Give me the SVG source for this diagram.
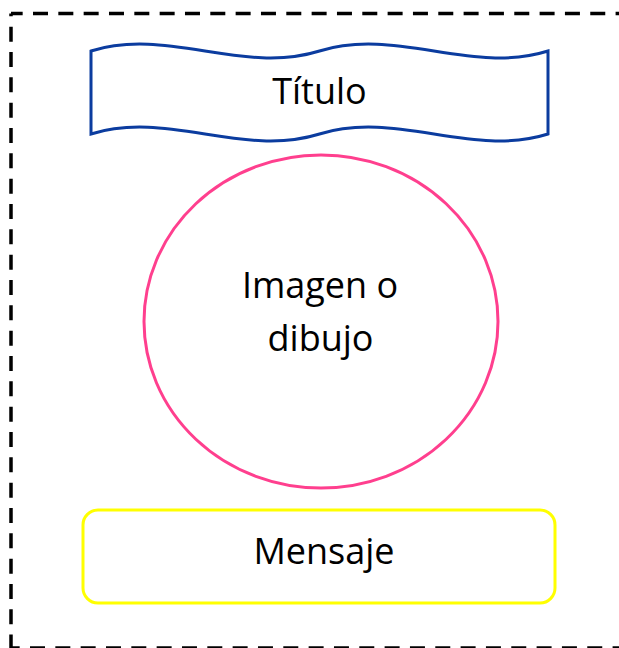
<svg xmlns="http://www.w3.org/2000/svg" width="619" height="648" viewBox="0 0 619 648">
  <style>
    .lbl { font-family: "Open Sans", "Noto Sans", "Liberation Sans", sans-serif; font-size: 36px; fill: #000000; text-anchor: middle; }
    .border { fill: none; stroke: #000000; stroke-width: 3.5; stroke-dasharray: 15 10.33; }
  </style>
  <rect x="0" y="0" width="619" height="648" fill="#ffffff"/>
  <g id="frame">
    <path class="border" d="M11,13.5 L640,13.5" stroke-dashoffset="3.33"/>
    <path class="border" d="M11,13.5 L11,648" stroke-dashoffset="12.13"/>
    <path class="border" d="M11,648 L640,648" stroke-dashoffset="6.33"/>
  </g>
  <g id="titulo">
    <path d="M91,51 C167,27 243,75 319.5,51 C396,27 472,75 548,51 L548,134 C472,158 396,110 319.5,134 C243,158 167,110 91,134 Z" fill="#ffffff" stroke="#0B3C9F" stroke-width="3" stroke-linejoin="miter"/>
    <text class="lbl" x="319.5" y="103.5">Título</text>
  </g>
  <g id="imagen">
    <ellipse cx="321" cy="321.5" rx="177" ry="166.5" fill="#ffffff" stroke="#FF3F8E" stroke-width="3"/>
    <text class="lbl" x="320" y="298">Imagen o</text>
    <text class="lbl" x="320.5" y="351">dibujo</text>
  </g>
  <g id="mensaje">
    <rect x="83" y="510" width="472" height="93" rx="15" ry="15" fill="#ffffff" stroke="#FFFF00" stroke-width="3"/>
    <text class="lbl" x="324" y="563.5">Mensaje</text>
  </g>
  <g id="connectors"/>
</svg>
